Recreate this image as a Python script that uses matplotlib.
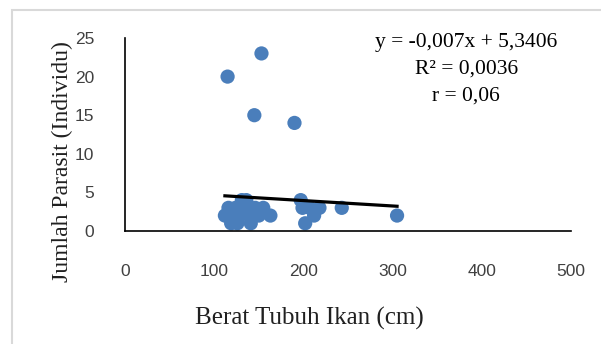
import matplotlib.pyplot as plt
from matplotlib.patches import Rectangle

# Berat tubuh ikan vs jumlah parasit
berat = [115, 153, 145, 190,
         112, 116, 119, 121, 124, 126, 128, 131, 133, 136, 139, 141, 146, 150, 155, 163,
         197, 199, 202, 207, 212, 218, 243, 305]
parasit = [20, 23, 15, 14,
           2, 3, 1, 2, 3, 1, 2, 4, 3, 4, 2, 1, 3, 2, 3, 2,
           4, 3, 1, 3, 2, 3, 3, 2]

slope = -0.007
intercept = 5.3406
x_ticks = [0, 100, 200, 300, 400, 500]
y_ticks = [0, 5, 10, 15, 20, 25]

serif = "Liberation Serif"
sans = "Liberation Sans"

fig = plt.figure(figsize=(6.01, 3.44), dpi=100)
fig.patches.append(Rectangle((12 / 601, -0.1), 1.1, (334 / 344) + 0.1, transform=fig.transFigure,
                             fill=False, edgecolor="#d9d9d9", lw=1.5))
ax = fig.add_axes([125 / 601, 113 / 344, 446 / 601, 193 / 344])

ax.scatter(berat, parasit, s=105, color="#4a7ebb", edgecolors="none", zorder=2)
xl = [min(berat), max(berat)]
ax.plot(xl, [slope * v + intercept for v in xl], color="black", lw=2.3, zorder=3)

ax.set_xlim(0, 500)
ax.set_ylim(0, 25)
ax.set_xticks(x_ticks)
ax.set_yticks(y_ticks)
ax.tick_params(length=0, labelsize=12.5, colors="#404040")
ax.tick_params(axis="x", pad=24)
ax.tick_params(axis="y", pad=22)
for lab in ax.get_xticklabels() + ax.get_yticklabels():
    lab.set_family(sans)
ax.spines["top"].set_visible(False)
ax.spines["right"].set_visible(False)
ax.spines["left"].set_linewidth(1.2)
ax.spines["bottom"].set_linewidth(1.2)

fig.text(309 / 601, 1 - 318 / 344, "Berat Tubuh Ikan (cm)", family=serif, fontsize=18,
         ha="center", va="center", color="#202020")
fig.text(62 / 601, 1 - 162 / 344, "Jumlah Parasit (Individu)", family=serif, fontsize=17,
         ha="center", va="center", rotation=90, color="#202020")

ax.text(0.765, 1.025, "y = -0,007x + 5,3406\nR² = 0,0036\nr = 0,06", transform=ax.transAxes,
        family=serif, fontsize=15.5, ha="center", va="top", linespacing=1.55)

fig.savefig("out.png", dpi=100)
